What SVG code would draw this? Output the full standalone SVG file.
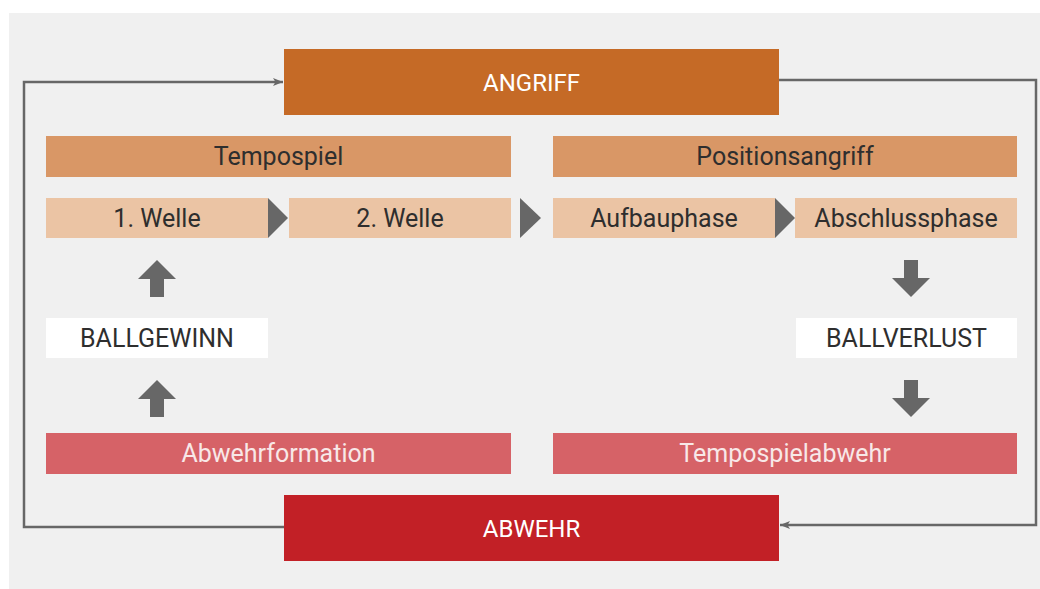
<svg xmlns="http://www.w3.org/2000/svg" width="1040" height="589" viewBox="0 0 1040 589">
<defs>
<style>
.t{font-family:Roboto,"Liberation Sans",sans-serif;font-size:25px;text-anchor:middle}
.big{font-size:24px}
.dark{fill:#2e2e2e}
.light{fill:#ffffff}
.pink{fill:#f8e8e8}
.main1{fill:#c56a26}
.main2{fill:#c22026}
.phase{fill:#d99766}
.sub{fill:#ebc4a4}
.def{fill:#d66267}
.white{fill:#ffffff}
.tri{fill:#676767}
.conn{fill:none;stroke:#676767;stroke-width:2.5}
</style>
<marker id="ah" viewBox="0 0 10 8" refX="10" refY="4" markerWidth="10" markerHeight="8" markerUnits="userSpaceOnUse" orient="auto">
<path d="M0,0 L10,4 L0,8 L2.5,4 Z" fill="#676767"/>
</marker>
</defs>
<rect x="0" y="0" width="1040" height="589" fill="#ffffff"/>
<rect x="9" y="13" width="1031" height="576" fill="#f0f0f0"/>
<g id="connectors">
<path class="conn" d="M284,527 H24 V82 H283" marker-end="url(#ah)"/>
<path class="conn" d="M779,80 H1036 V525 H780" marker-end="url(#ah)"/>
<polygon class="tri" points="268,198 288,218 268,238"/>
<polygon class="tri" points="520,198 541,218 520,238"/>
<polygon class="tri" points="775,198 795,218 775,238"/>
<polygon class="tri" points="157,260 176,279 164,279 164,297 150,297 150,279 138,279"/>
<polygon class="tri" points="157,380 176,399 164,399 164,417 150,417 150,399 138,399"/>
<polygon class="tri" points="911,297 930,278 918,278 918,260 904,260 904,278 892,278"/>
<polygon class="tri" points="911,417 930,398 918,398 918,380 904,380 904,398 892,398"/>
</g>
<g id="angriff">
<rect class="main1" x="284" y="49" width="495" height="66"/>
<text class="t big light" x="531.5" y="90.5">ANGRIFF</text>
</g>
<g id="tempospiel">
<rect class="phase" x="46" y="136" width="465" height="41"/>
<text class="t dark" x="278.5" y="165">Tempospiel</text>
</g>
<g id="positionsangriff">
<rect class="phase" x="553" y="136" width="464" height="41"/>
<text class="t dark" x="785" y="165">Positionsangriff</text>
</g>
<g id="welle1">
<rect class="sub" x="46" y="198" width="222" height="40"/>
<text class="t dark" x="157" y="226.5">1. Welle</text>
</g>
<g id="welle2">
<rect class="sub" x="289" y="198" width="222" height="40"/>
<text class="t dark" x="400" y="226.5">2. Welle</text>
</g>
<g id="aufbauphase">
<rect class="sub" x="553" y="198" width="222" height="40"/>
<text class="t dark" x="664" y="226.5">Aufbauphase</text>
</g>
<g id="abschlussphase">
<rect class="sub" x="795" y="198" width="222" height="40"/>
<text class="t dark" x="906" y="226.5">Abschlussphase</text>
</g>
<g id="ballgewinn">
<rect class="white" x="46" y="318" width="222" height="40"/>
<text class="t dark" x="157" y="346.5">BALLGEWINN</text>
</g>
<g id="ballverlust">
<rect class="white" x="796" y="318" width="221" height="40"/>
<text class="t dark" x="906.5" y="346.5">BALLVERLUST</text>
</g>
<g id="abwehrformation">
<rect class="def" x="46" y="433" width="465" height="41"/>
<text class="t pink" x="278.5" y="462">Abwehrformation</text>
</g>
<g id="tempospielabwehr">
<rect class="def" x="553" y="433" width="464" height="41"/>
<text class="t pink" x="785" y="462">Tempospielabwehr</text>
</g>
<g id="abwehr">
<rect class="main2" x="284" y="495" width="495" height="66"/>
<text class="t big light" x="531.5" y="536.5">ABWEHR</text>
</g>
</svg>
